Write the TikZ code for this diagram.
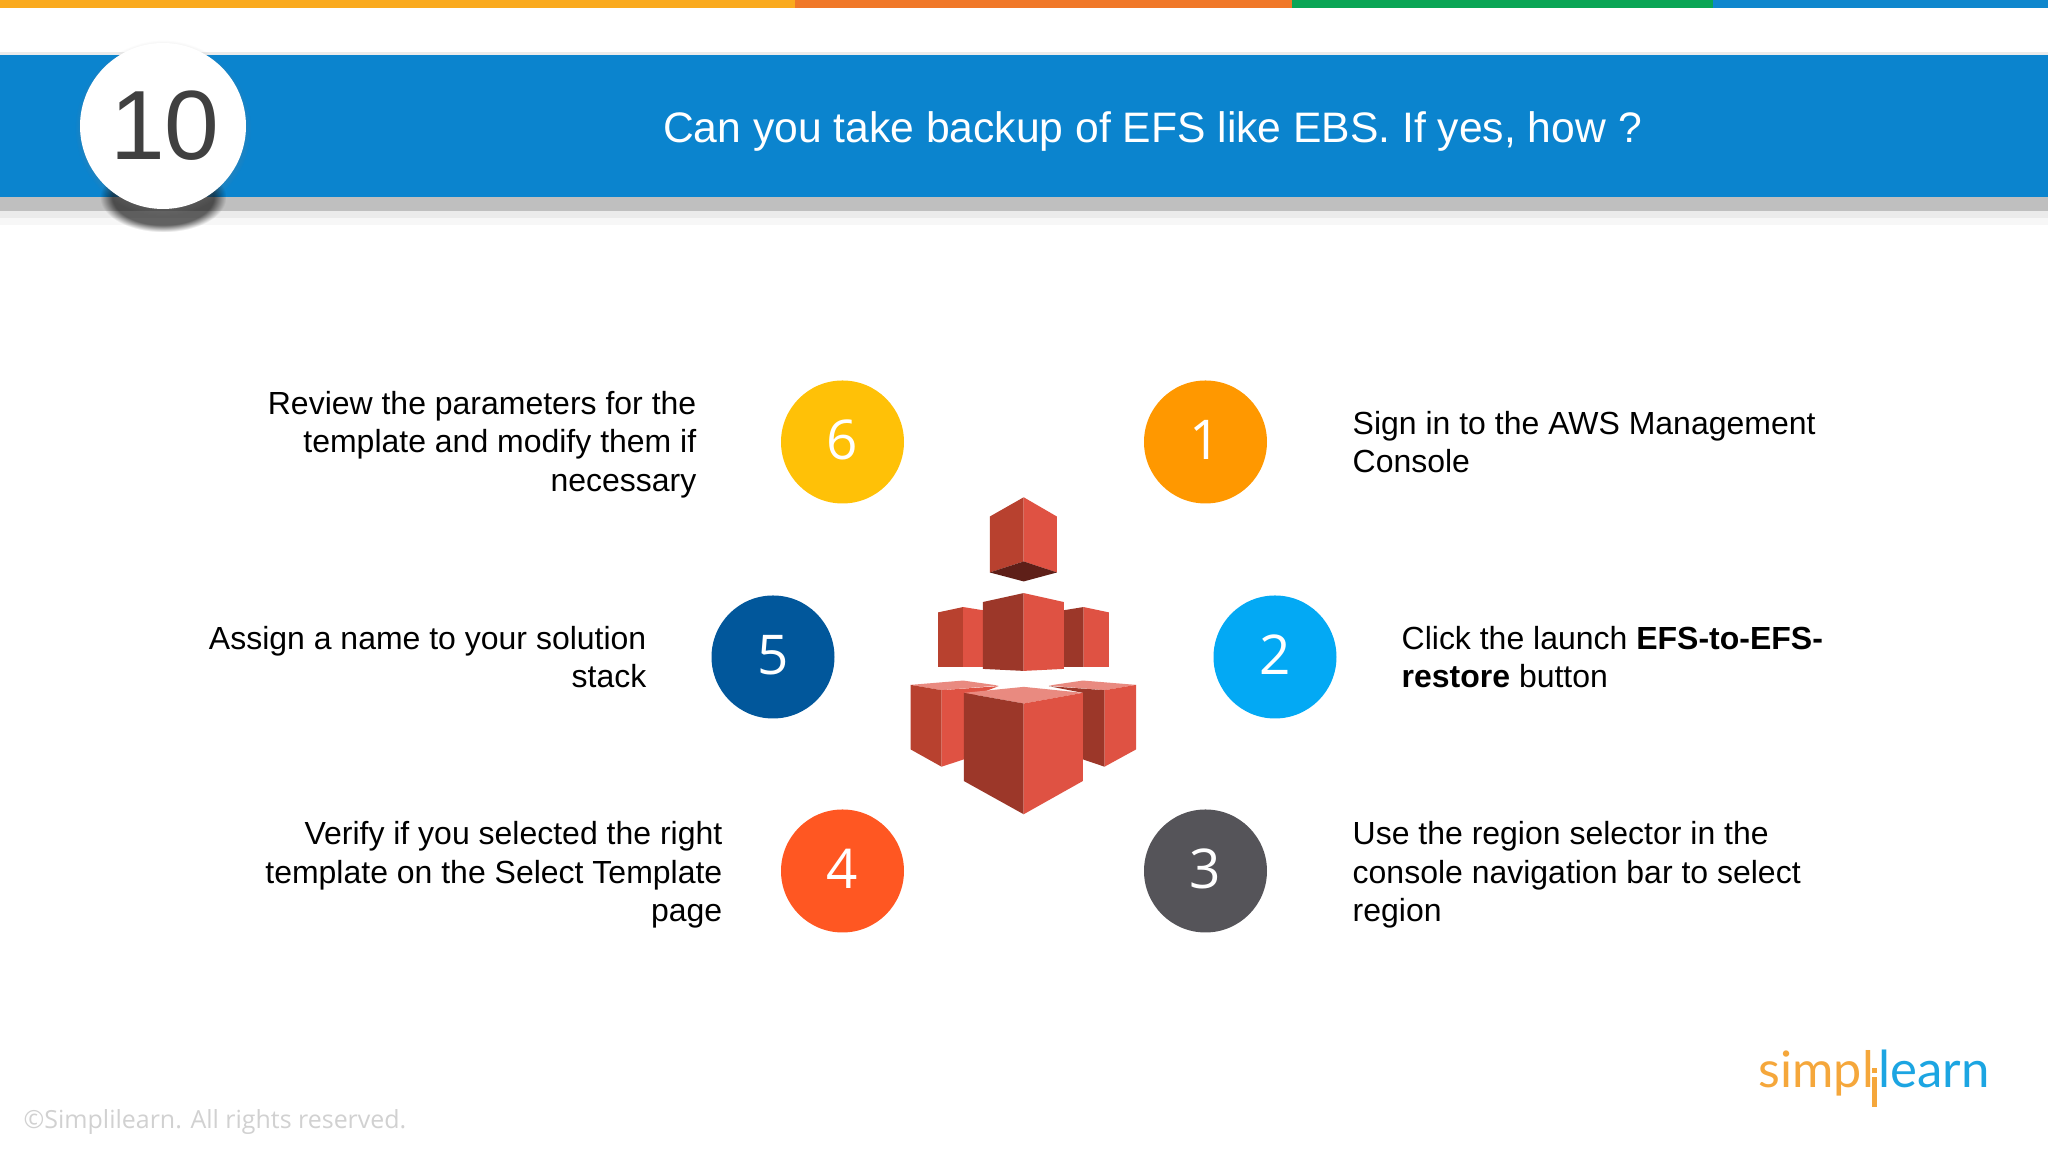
\documentclass[tikz,border=0pt]{standalone}
\usepackage{fontspec}
\setmainfont{Liberation Sans}
\newfontfamily\numfont{Open Sans}
\newfontfamily\logofont{Lato}
\usetikzlibrary{shadows,fadings}

\definecolor{bandblue}{HTML}{0B84CE}
\definecolor{digitgray}{HTML}{404040}
\definecolor{cubelight}{HTML}{DF5243}
\definecolor{cubedark}{HTML}{9C3729}
\definecolor{cubemid}{HTML}{B8412F}
\definecolor{cubetop}{HTML}{E98A80}
\definecolor{cubeunder}{HTML}{5E1F18}
\definecolor{logoorange}{HTML}{F5A73B}
\definecolor{logoblue}{HTML}{1CA5E2}

\tikzset{
  numcircle/.style={circle, minimum size=1.23cm, inner sep=0pt, text=white, text depth=0.05cm, font=\numfont\fontsize{15.6}{18}\selectfont},
  steptext/.style={inner sep=0pt, font=\fontsize{9.1}{10.9}\selectfont},
  logotext/.style={inner sep=0pt, anchor=base west, font=\logofont\fontsize{14.3}{16}\selectfont}
}

\begin{document}
\begin{tikzpicture}
\useasboundingbox (0,0) rectangle (20.48,11.52);
\fill[white] (0,0) rectangle (20.48,11.52);

% top stripe
\fill[fill={rgb,255:red,250;green,170;blue,30}] (0,11.44) rectangle (7.95,11.52);
\fill[fill={rgb,255:red,240;green,120;blue,40}] (7.95,11.44) rectangle (12.92,11.52);
\fill[fill={rgb,255:red,10;green,165;blue,85}] (12.92,11.44) rectangle (17.13,11.52);
\fill[fill={rgb,255:red,15;green,135;blue,205}] (17.13,11.44) rectangle (20.48,11.52);

% header band
\fill[black!8] (0,10.97) rectangle (20.48,11.0);
\fill[black!3] (0,9.27) rectangle (20.48,9.34);
\fill[black!8] (0,9.34) rectangle (20.48,9.41);
\fill[black!25] (0,9.41) rectangle (20.48,9.55);
\fill[bandblue] (0,9.55) rectangle (20.48,10.97);
\fill[black, opacity=0.6, path fading=circle with fuzzy edge 20 percent] (1.0,9.2) rectangle (2.26,9.9);

\node[name=num10, circle, minimum size=1.66cm, inner sep=0pt, fill=white, text=digitgray,
  font=\fontsize{28}{32}\selectfont, circular drop shadow={shadow scale=1.06, shadow xshift=0cm, shadow yshift=-0.02cm, opacity=0.35}] at (1.63,10.26) {\kern0.04cm 10};
\node[name=title, inner sep=0pt, text=white, font=\fontsize{12.13}{14}\selectfont] at (11.525,10.21) {Can you take backup of EFS like EBS. If yes, how ?};

% steps
\node[name=c6, numcircle, fill={rgb,255:red,255;green,193;blue,7}] at (8.425,7.1) {6};
\node[name=c1, numcircle, fill={rgb,255:red,255;green,152;blue,0}] at (12.055,7.1) {1};
\node[name=c5, numcircle, fill={rgb,255:red,1;green,87;blue,155}] at (7.73,4.95) {5};
\node[name=c2, numcircle, fill={rgb,255:red,3;green,169;blue,244}] at (12.75,4.95) {2};
\node[name=c4, numcircle, fill={rgb,255:red,255;green,87;blue,34}] at (8.425,2.81) {4};
\node[name=c3, numcircle, fill={rgb,255:red,85;green,84;blue,89}] at (12.055,2.81) {3};

\node[name=t6, steptext, anchor=east, align=right] at (6.97,7.075) {Review the parameters for the\\template and modify them if\\necessary};
\node[name=t1, steptext, anchor=west, align=left] at (13.52,7.1) {Sign in to the AWS Management\\Console};
\node[name=t5, steptext, anchor=east, align=right] at (6.47,4.95) {Assign a name to your solution\\stack};
\node[name=t2, steptext, anchor=west, align=left] at (14.01,4.95) {Click the launch \textbf{EFS-to-EFS-}\\\textbf{restore} button};
\node[name=t4, steptext, anchor=east, align=right] at (7.23,2.77) {Verify if you selected the right\\template on the Select Template\\page};
\node[name=t3, steptext, anchor=west, align=left] at (13.52,2.77) {Use the region selector in the\\console navigation bar to select\\region};

% cubes
\begin{scope}[shift={(8.8,6.72)}, x=0.00333cm, y=-0.00333cm]
\fill[cubemid] (330,110) -- (432,52) -- (432,245) -- (330,278) -- cycle;
\fill[cubelight] (432,52) -- (532,110) -- (532,278) -- (432,245) -- cycle;
\fill[cubeunder] (330,278) -- (432,245) -- (532,278) -- (432,305) -- cycle;

\fill[cubemid] (175,398) -- (250,382) -- (250,562) -- (175,562) -- cycle;
\fill[cubelight] (250,382) -- (312,392) -- (312,562) -- (250,562) -- cycle;
\fill[cubedark] (550,392) -- (612,382) -- (612,562) -- (550,562) -- cycle;
\fill[cubelight] (612,382) -- (688,398) -- (688,562) -- (612,562) -- cycle;
\fill[cubedark] (309,367) -- (432,340) -- (432,574) -- (309,568) -- cycle;
\fill[cubelight] (432,340) -- (553,367) -- (553,568) -- (432,574) -- cycle;

\fill[cubetop] (92,616) -- (250,603) -- (356,618) -- (185,632) -- cycle;
\fill[cubemid] (92,616) -- (185,632) -- (185,862) -- (92,810) -- cycle;
\fill[cubelight] (185,632) -- (356,620) -- (252,660) -- (252,840) -- (185,862) -- cycle;
\fill[cubetop] (508,618) -- (610,603) -- (770,616) -- (675,632) -- cycle;
\fill[cubedark] (508,620) -- (675,632) -- (675,862) -- (610,840) -- (610,640) -- cycle;
\fill[cubelight] (675,632) -- (770,616) -- (770,810) -- (675,862) -- cycle;

\fill[cubetop] (252,640) -- (432,622) -- (610,640) -- (432,672) -- cycle;
\fill[cubedark] (252,640) -- (432,672) -- (432,1005) -- (252,905) -- cycle;
\fill[cubelight] (432,672) -- (610,640) -- (610,905) -- (432,1005) -- cycle;
\end{scope}

% logo and footer
\node[name=logoa, logotext, text=logoorange] at (17.58,0.64) {simpl};
\node[name=logob, logotext, text=logoblue, font=\logofont\fontsize{14.5}{16}\selectfont] at (18.78,0.64) {learn};
\fill[logoorange] (18.72,0.45) rectangle (18.77,0.75);
\fill[logoorange] (18.72,0.79) rectangle (18.77,0.84);
\node[name=copy, inner sep=0pt, anchor=west, text=black!18, font=\numfont\fontsize{7.1}{9}\selectfont] at (0.23,0.30) {©Simplilearn. All rights reserved.};
\end{tikzpicture}
\end{document}
